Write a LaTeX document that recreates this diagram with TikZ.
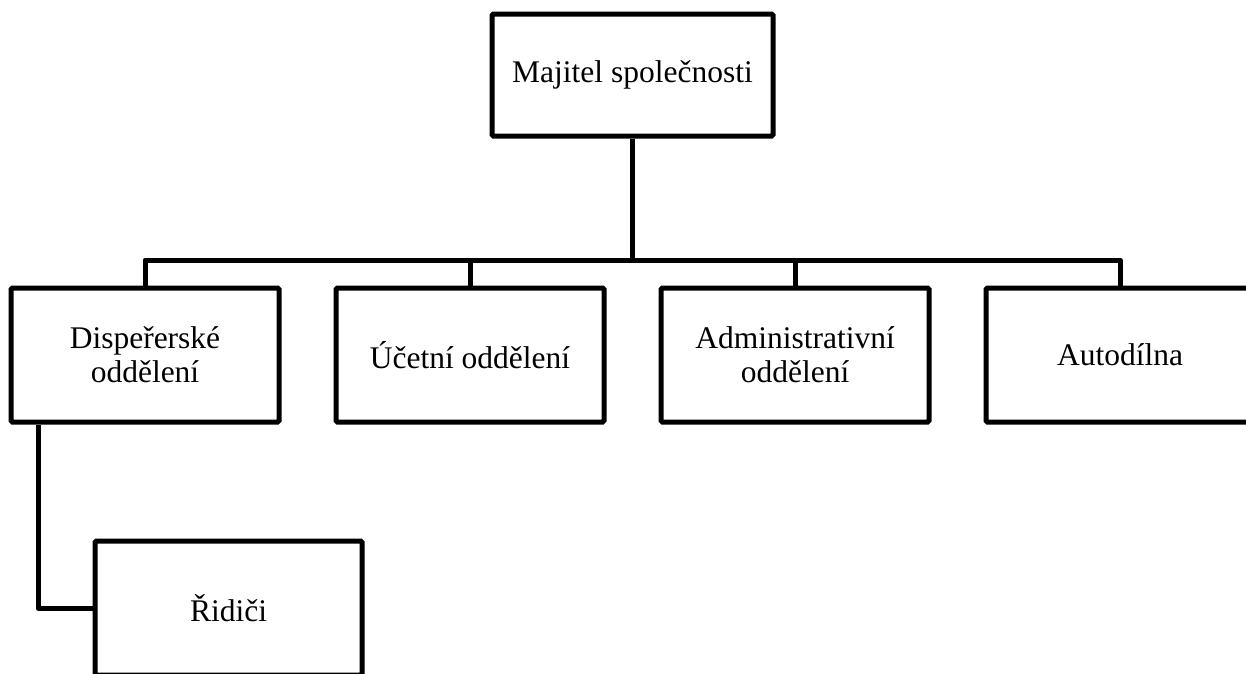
\documentclass[tikz,border=0pt]{standalone}
\usepackage{fontspec}
\setmainfont{Liberation Serif}
\begin{document}
\begin{tikzpicture}[x=1pt,y=-1pt,
  box/.style={draw=black,line width=5pt,rounded corners=1.5pt,fill=white,
    align=center,font=\fontsize{31.5}{34}\selectfont,inner sep=0pt},
  link/.style={draw=black,line width=5pt,line join=round}]
\useasboundingbox (0,0) rectangle (1246,673);
\clip (0,0) rectangle (1246,673);
\fill[white] (0,0) rectangle (1246,673);
\coordinate (bus) at (632.5,260);
\coordinate (lane) at (38,0);
\node[box,minimum width=281pt,minimum height=122pt] (top) at (632.5,75) {Majitel společnosti};
\node[box,minimum width=268pt,minimum height=134pt] (b1) at (145,355) {Dispeřerské\\oddělení};
\node[box,minimum width=268pt,minimum height=134pt] (b2) at (470,355) {Účetní oddělení};
\node[box,minimum width=268pt,minimum height=134pt] (b3) at (795,355) {Administrativní\\oddělení};
\node[box,minimum width=268pt,minimum height=134pt] (b4) at (1120,355) {Autodílna};
\node[box,minimum width=267pt,minimum height=134pt] (rid) at (228.5,608) {Řidiči};
\path[link] (top.south) -- (bus);
\path[link] (b1.north) -- (b1.north |- bus) -- (b4.north |- bus) -- (b4.north);
\path[link] (b2.north) -- (b2.north |- bus);
\path[link] (b3.north) -- (b3.north |- bus);
\coordinate (d0) at (b1.south -| lane);
\path[link] (d0) |- (rid.west);
\end{tikzpicture}
\end{document}
